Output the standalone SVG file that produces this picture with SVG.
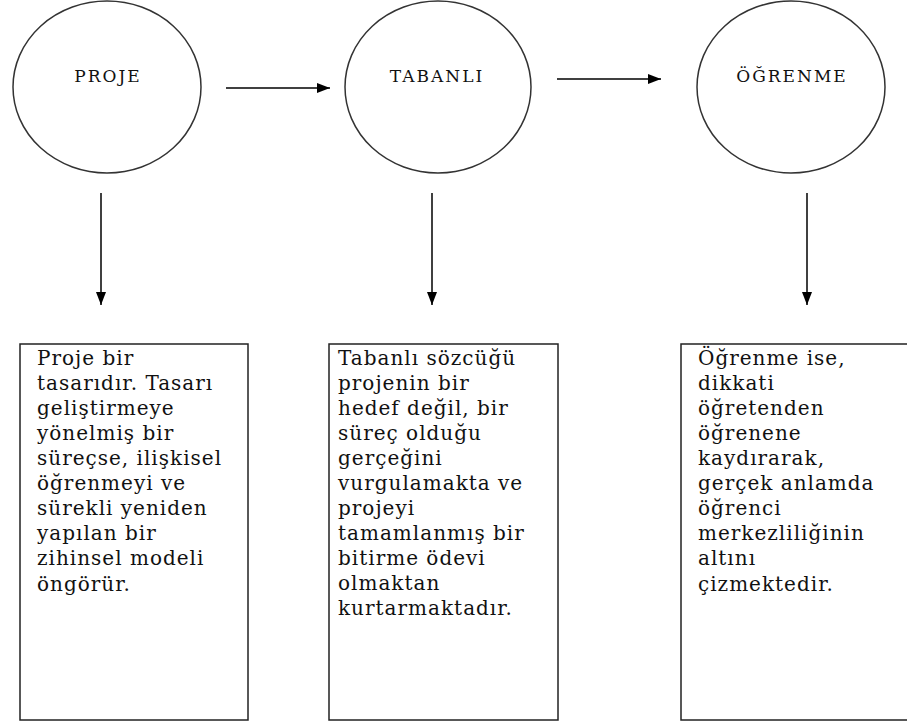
<svg xmlns="http://www.w3.org/2000/svg" width="907" height="724" viewBox="0 0 907 724">
<defs>
<marker id="ah" markerWidth="13" markerHeight="10" refX="13" refY="5" orient="auto" markerUnits="userSpaceOnUse">
<path d="M0,0 L13,5 L0,10 Z" fill="#000"/>
</marker>
<style>
.circ{fill:#fff;stroke:#333;stroke-width:1.5}
.box{fill:#fff;stroke:#222;stroke-width:1.5}
.title{font-family:"DejaVu Serif","Liberation Serif",serif;font-size:17px;letter-spacing:2px;fill:#111;text-anchor:middle}
.body{font-family:"DejaVu Serif","Liberation Serif",serif;font-size:20px;letter-spacing:1px;fill:#111}
.conn{stroke:#000;stroke-width:1.5;fill:none;marker-end:url(#ah)}
</style>
</defs>
<rect width="907" height="724" fill="#fff"/>
<g id="node-proje">
<ellipse class="circ" cx="107" cy="87" rx="94" ry="86"/>
<text class="title" x="108" y="82">PROJE</text>
</g>
<g id="node-tabanli">
<ellipse class="circ" cx="438" cy="87" rx="93" ry="86"/>
<text class="title" x="437" y="82">TABANLI</text>
</g>
<g id="node-ogrenme">
<ellipse class="circ" cx="791" cy="87" rx="94" ry="86"/>
<text class="title" x="792" y="82">ÖĞRENME</text>
</g>
<g id="box-proje">
<rect class="box" x="20" y="344" width="228" height="376"/>
<text class="body" x="37" y="365">
<tspan x="37" dy="0">Proje bir</tspan>
<tspan x="37" dy="25">tasarıdır. Tasarı</tspan>
<tspan x="37" dy="25">geliştirmeye</tspan>
<tspan x="37" dy="25">yönelmiş bir</tspan>
<tspan x="37" dy="25">süreçse, ilişkisel</tspan>
<tspan x="37" dy="25">öğrenmeyi ve</tspan>
<tspan x="37" dy="25">sürekli yeniden</tspan>
<tspan x="37" dy="25">yapılan bir</tspan>
<tspan x="37" dy="25">zihinsel modeli</tspan>
<tspan x="37" dy="26">öngörür.</tspan>
</text>
</g>
<g id="box-tabanli">
<rect class="box" x="329" y="344" width="229" height="376"/>
<text class="body" x="338" y="365">
<tspan x="338" dy="0">Tabanlı sözcüğü</tspan>
<tspan x="338" dy="25">projenin bir</tspan>
<tspan x="338" dy="25">hedef değil, bir</tspan>
<tspan x="338" dy="25">süreç olduğu</tspan>
<tspan x="338" dy="25">gerçeğini</tspan>
<tspan x="338" dy="25">vurgulamakta ve</tspan>
<tspan x="338" dy="25">projeyi</tspan>
<tspan x="338" dy="25">tamamlanmış bir</tspan>
<tspan x="338" dy="25">bitirme ödevi</tspan>
<tspan x="338" dy="25">olmaktan</tspan>
<tspan x="338" dy="25">kurtarmaktadır.</tspan>
</text>
</g>
<g id="box-ogrenme">
<rect class="box" x="681" y="344" width="240" height="376"/>
<text class="body" x="698" y="365">
<tspan x="698" dy="0">Öğrenme ise,</tspan>
<tspan x="698" dy="25">dikkati</tspan>
<tspan x="698" dy="25">öğretenden</tspan>
<tspan x="698" dy="25">öğrenene</tspan>
<tspan x="698" dy="25">kaydırarak,</tspan>
<tspan x="698" dy="25">gerçek anlamda</tspan>
<tspan x="698" dy="25">öğrenci</tspan>
<tspan x="698" dy="25">merkezliliğinin</tspan>
<tspan x="698" dy="25">altını</tspan>
<tspan x="698" dy="26">çizmektedir.</tspan>
</text>
</g>
<g id="connectors">
<line class="conn" x1="226" y1="88" x2="330" y2="88"/>
<line class="conn" x1="557" y1="79" x2="661" y2="79"/>
<line class="conn" x1="101" y1="193" x2="101" y2="305"/>
<line class="conn" x1="432" y1="193" x2="432" y2="305"/>
<line class="conn" x1="807" y1="193" x2="807" y2="305"/>
</g>
</svg>
